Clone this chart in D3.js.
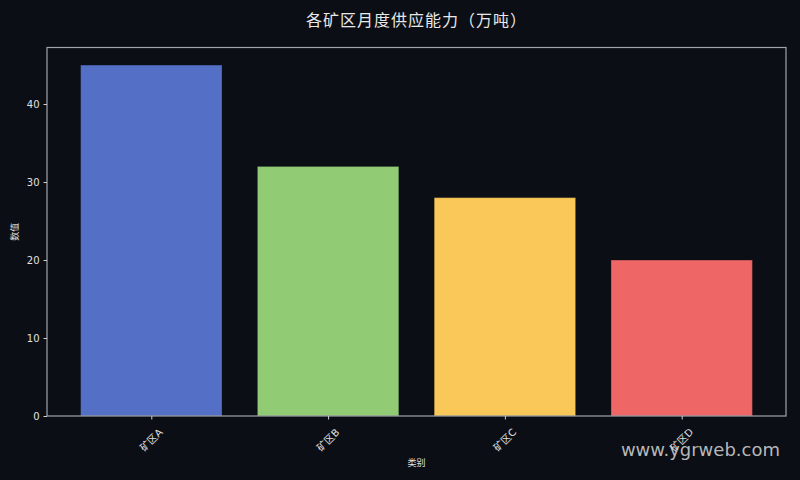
<!DOCTYPE html>
<html><head><meta charset="utf-8">
<script src="https://cdn.jsdelivr.net/npm/d3@7"></script>
<style>
html,body{margin:0;padding:0;background:#0b0e14;}
svg{display:block;}
text{font-family:"DejaVu Sans","Noto Sans CJK SC",sans-serif;}
</style></head><body>
<script>
const categories = ["矿区A","矿区B","矿区C","矿区D"];
const values = [45, 32, 28, 20];
const colors = ["#5470c6","#91cc75","#fac858","#ee6666"];
const yTicks = [0,10,20,30,40];
const title = "各矿区月度供应能力（万吨）";

const W=800,H=480;
const m={left:47,right:14,top:47.5,bottom:64};
const svg=d3.select("body").append("svg").attr("width",W).attr("height",H);
svg.append("rect").attr("width",W).attr("height",H).attr("fill","#0b0e14");

const x=d3.scaleLinear().domain([-0.59,3.59]).range([m.left,W-m.right]);
const y=d3.scaleLinear().domain([0,47.25]).range([H-m.bottom,m.top]);

const g=svg.append("g");
const bw=x(0.8)-x(0);
g.selectAll("rect.bar").data(values).join("rect").attr("class","bar")
  .attr("x",(d,i)=>x(i-0.4)).attr("width",bw)
  .attr("y",d=>y(d)).attr("height",d=>y(0)-y(d))
  .attr("fill",(d,i)=>colors[i]).attr("fill-opacity",1)
  .attr("stroke","#0b0e14").attr("stroke-opacity",0.3).attr("stroke-width",1);

// spines
g.append("rect").attr("x",x.range()[0]).attr("y",y.range()[1])
  .attr("width",x.range()[1]-x.range()[0]).attr("height",y.range()[0]-y.range()[1])
  .attr("fill","none").attr("stroke","#a0a4ab").attr("stroke-width",1.2);

// y axis
const ya=g.append("g").attr("transform",`translate(${m.left},0)`)
  .call(d3.axisLeft(y).tickValues(yTicks).tickSize(3.5).tickPadding(4));
ya.select(".domain").remove();
ya.selectAll("line").attr("stroke","#d0d0d0");
ya.selectAll("text").attr("fill","#e0e0e0").attr("font-size",10);

// x axis
const xa=g.append("g").attr("transform",`translate(0,${y(0)})`)
  .call(d3.axisBottom(x).tickValues(d3.range(categories.length)).tickSize(3.5).tickFormat(""));
xa.select(".domain").remove();
xa.selectAll("line").attr("stroke","#d0d0d0");
g.selectAll("text.xl").data(categories).join("text").attr("class","xl")
  .attr("transform",(d,i)=>`translate(${x(i)},${y(0)+24}) rotate(-45)`)
  .attr("text-anchor","middle").attr("dy","0.35em")
  .attr("fill","#e0e0e0").attr("font-size",10).text(d=>d);

svg.append("text").attr("x",(x.range()[0]+x.range()[1])/2).attr("y",466)
  .attr("text-anchor","middle").attr("fill","#e0e0e0").attr("font-size",9).text("类别");
svg.append("text").attr("transform",`translate(18,${(y.range()[0]+y.range()[1])/2}) rotate(-90)`)
  .attr("text-anchor","middle").attr("fill","#e0e0e0").attr("font-size",9).text("数值");

svg.append("text").attr("x",(x.range()[0]+x.range()[1])/2).attr("y",26).attr("text-anchor","middle")
  .attr("fill","#e8e8e8").attr("font-size",16).attr("letter-spacing",1)
  .style("font-family","'Noto Sans CJK SC',sans-serif").text(title);

svg.append("text").attr("x",780).attr("y",456).attr("text-anchor","end")
  .attr("fill","#d8d8d8").attr("fill-opacity",0.85).attr("font-size",18).text("www.ygrweb.com");
</script>
</body></html>
